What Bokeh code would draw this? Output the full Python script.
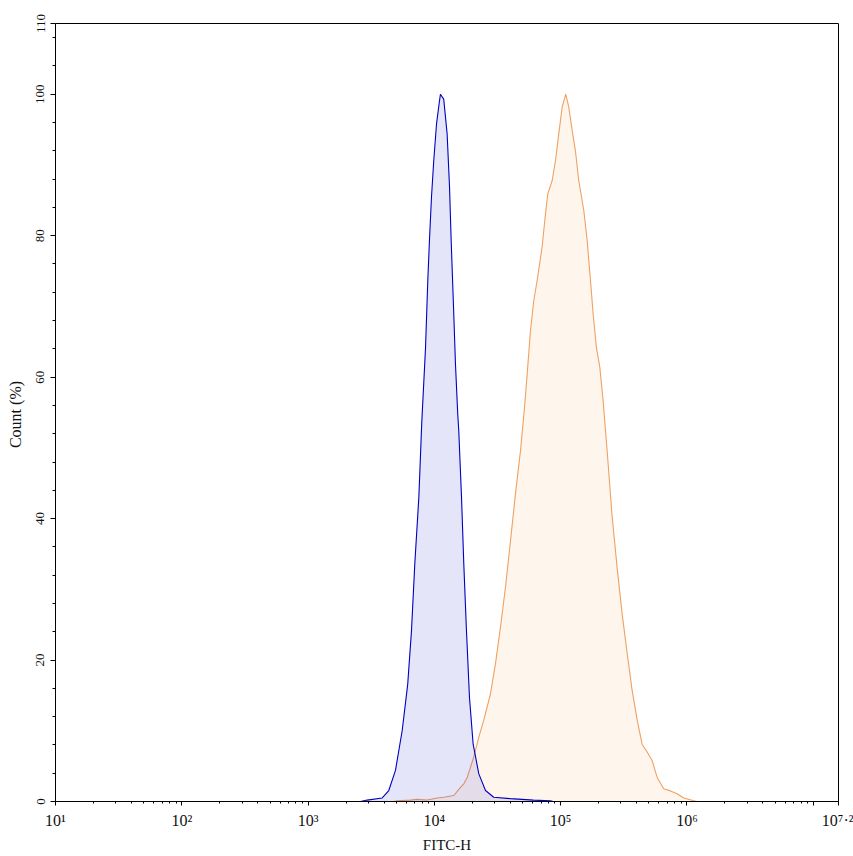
from bokeh.plotting import figure
from bokeh.models import Range1d, FixedTicker
from bokeh.embed import file_html
from bokeh.resources import INLINE

# ---- data (FITC-H given as log10 positions) ----
control_log_fitc = [3.415, 3.468, 3.587, 3.639, 3.692, 3.745, 3.789, 3.819, 3.845, 3.877,
                    3.900, 3.930, 3.948, 3.961, 3.977, 3.995, 4.017, 4.040, 4.048, 4.074,
                    4.101, 4.120, 4.133, 4.149, 4.167, 4.185, 4.193, 4.215, 4.233, 4.254,
                    4.278, 4.307, 4.352, 4.405, 4.470, 4.603, 4.785, 4.919, 4.940]
control_count = [0.0, 0.2, 0.5, 1.55, 4.4, 10.0, 16.6, 24.2, 33.6, 43.0,
                 53.5, 64.2, 73.7, 79.3, 85.4, 90.6, 95.8, 99.0, 100.0, 99.3,
                 94.4, 86.9, 79.3, 71.3, 61.9, 54.8, 52.5, 43.0, 33.6, 24.2,
                 14.7, 8.1, 3.9, 1.55, 0.6, 0.4, 0.2, 0.1, 0.0]

stained_log_fitc = [3.680, 3.705, 3.811, 3.864, 3.943, 4.022, 4.074, 4.154, 4.207, 4.233,
                    4.260, 4.312, 4.352, 4.391, 4.444, 4.484, 4.523, 4.563, 4.603, 4.642,
                    4.682, 4.715, 4.735, 4.761, 4.787, 4.814, 4.853, 4.880, 4.898, 4.933,
                    4.959, 4.985, 5.012, 5.040, 5.064, 5.091, 5.117, 5.143, 5.183, 5.210,
                    5.236, 5.257, 5.283, 5.310, 5.336, 5.368, 5.408, 5.447, 5.487, 5.527,
                    5.566, 5.606, 5.645, 5.685, 5.724, 5.764, 5.816, 5.869, 5.922, 5.975,
                    6.054, 6.080]
stained_count = [0.0, 0.1, 0.2, 0.3, 0.2, 0.5, 0.6, 0.85, 2.0, 2.5,
                 3.4, 6.3, 9.1, 11.5, 15.2, 19.5, 24.6, 30.3, 36.9, 43.5,
                 49.6, 56.0, 60.5, 66.6, 70.8, 73.7, 78.4, 83.1, 85.9, 87.8,
                 90.6, 94.4, 98.2, 100.0, 98.2, 94.9, 92.0, 87.8, 83.6, 79.3,
                 73.7, 69.0, 64.2, 61.4, 56.7, 49.6, 40.2, 33.1, 26.5, 20.9,
                 15.7, 11.5, 8.1, 7.0, 5.8, 3.4, 1.8, 1.5, 1.1, 0.5,
                 0.1, 0.0]

x_major_ticks = [1e1, 1e2, 1e3, 1e4, 1e5, 1e6, 1e7, 10 ** 7.2]
x_tick_labels = ["10¹", "10²", "10³", "10⁴", "10⁵", "10⁶", "", "10⁷·²"]
y_major_ticks = [0, 20, 40, 60, 80, 100, 110]
y_minor_ticks = [4, 8, 12, 16, 24, 28, 32, 36, 44, 48, 52, 56, 64, 68, 72, 76,
                 84, 88, 92, 96, 104, 108]

control_fitc = [10 ** v for v in control_log_fitc]
stained_fitc = [10 ** v for v in stained_log_fitc]

x_minor_ticks = [k * 10 ** n for n in range(1, 7) for k in range(2, 10)]

FONT = "Liberation Serif"
TXT = "#111111"

p = figure(width=853, height=856, x_axis_type="log",
           x_range=Range1d(10, 10 ** 7.2), y_range=Range1d(0, 110),
           output_backend="svg", toolbar_location=None,
           min_border_left=55, min_border_right=15, min_border_top=23, min_border_bottom=55)

# stained sample (orange)
p.varea(x=stained_fitc, y1=0, y2=stained_count, fill_color="#F5A050", fill_alpha=0.1)
p.line(stained_fitc, stained_count, line_color="#F0A060", line_width=1.1)
# control (blue)
p.varea(x=control_fitc, y1=0, y2=control_count, fill_color="#0000CD", fill_alpha=0.1)
p.line(control_fitc, control_count, line_color="#0000C0", line_width=1.1)

p.xgrid.visible = False
p.ygrid.visible = False
p.outline_line_color = "black"
p.outline_line_width = 1
p.background_fill_color = "white"
p.border_fill_color = "white"

p.xaxis.ticker = FixedTicker(ticks=x_major_ticks, minor_ticks=x_minor_ticks)
p.xaxis.major_label_overrides = {t: lab for t, lab in zip(x_major_ticks, x_tick_labels)}
p.yaxis.ticker = FixedTicker(ticks=y_major_ticks, minor_ticks=y_minor_ticks)

for ax in (p.xaxis[0], p.yaxis[0]):
    ax.axis_line_color = "black"
    ax.major_tick_line_color = "black"
    ax.minor_tick_line_color = "black"
    ax.major_tick_in = 0
    ax.minor_tick_in = 0
    ax.major_label_text_font = FONT
    ax.axis_label_text_font = FONT
    ax.axis_label_text_font_style = "normal"
    ax.major_label_text_color = TXT
    ax.axis_label_text_color = TXT

p.xaxis.major_tick_out = 4
p.xaxis.minor_tick_out = 2
p.xaxis.major_label_text_font_size = "16px"
p.xaxis.major_label_standoff = 6
p.xaxis.axis_label = "FITC-H"
p.xaxis.axis_label_text_font_size = "15px"
p.xaxis.axis_label_standoff = 5

p.yaxis.major_tick_out = 5
p.yaxis.minor_tick_out = 3
p.yaxis.major_label_text_font_size = "13px"
p.yaxis.major_label_orientation = "vertical"
p.yaxis.major_label_standoff = 6
p.yaxis.axis_label = "Count  (%)"
p.yaxis.axis_label_text_font_size = "16px"
p.yaxis.axis_label_standoff = 10

open("out.html", "w").write(file_html(p, INLINE))
